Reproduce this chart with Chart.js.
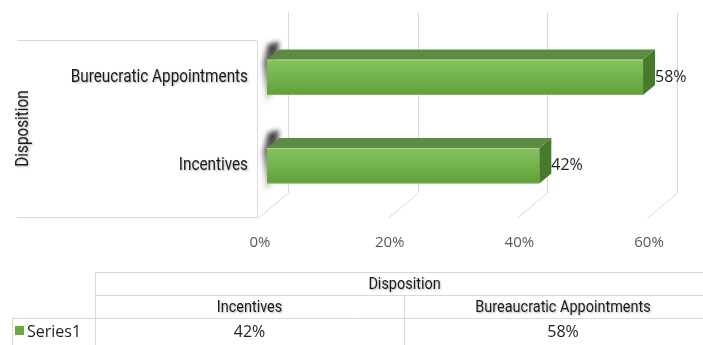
<!DOCTYPE html>
<html>
<head>
<meta charset="utf-8">
<script src="https://cdn.jsdelivr.net/npm/chart.js@4.4.1/dist/chart.umd.min.js"></script>
<style>
html,body{margin:0;padding:0;background:#fff}
#wrap{position:relative;width:703px;height:345px}
</style>
</head>
<body>
<div id="wrap"><canvas id="c" width="703" height="345"></canvas></div>
<script>
// data
const categories = ["Incentives", "Bureucratic Appointments"];
const tableCategories = ["Incentives", "Bureaucratic Appointments"];
const seriesName = "Series1";
const axisTitle = "Disposition";
const values = [42, 58];
const xTicks = [0, 20, 40, 60];

const COND = 'Roboto, "Noto Sans", sans-serif';
const BODY = '"Open Sans", "Noto Sans", sans-serif';
const GRID = "#d9d9d9";
const SQ = 0.85; // horizontal squeeze for the narrow label font
const DX = 12, DY = 10;
const BAR_PCT = 0.4;

function pct(v) { return v + "%"; }

// draws narrow, slightly shadowed text like the original
function narrowText(ctx, text, x, y, align, size, rot) {
  ctx.save();
  ctx.translate(x, y);
  if (rot) ctx.rotate(rot);
  ctx.scale(SQ, 1);
  ctx.font = size + "px " + COND;
  ctx.textAlign = align;
  ctx.textBaseline = "middle";
  ctx.shadowColor = "rgba(0,0,0,0.3)";
  ctx.shadowBlur = 2;
  ctx.shadowOffsetX = 1;
  ctx.shadowOffsetY = 1;
  ctx.fillStyle = "#1a1a1a";
  ctx.fillText(text, 0, 0);
  ctx.restore();
}

const depth3d = {
  id: "depth3d",
  beforeDatasetsDraw(chart) {
    const ctx = chart.ctx, a = chart.chartArea, xs = chart.scales.x;
    const x0 = xs.getPixelForValue(0);
    ctx.save();
    ctx.strokeStyle = GRID;
    ctx.lineWidth = 1;
    // left side box
    ctx.beginPath();
    ctx.moveTo(17, a.top + 7.5); ctx.lineTo(x0 - 9.5, a.top + 7.5);
    ctx.lineTo(x0 - 9.5, a.bottom + 7.5); ctx.lineTo(17, a.bottom + 7.5);
    ctx.stroke();
    // back wall gridlines and floor
    for (const t of xTicks) {
      const px = Math.round(xs.getPixelForValue(t)) + 0.5;
      ctx.beginPath();
      ctx.moveTo(px + 21, a.top - 21);
      ctx.lineTo(px + 21, a.bottom - 17);
      ctx.lineTo(px - 9, a.bottom + 8);
      ctx.stroke();
    }
    // dark end shading at the left of each bar
    const meta = chart.getDatasetMeta(0);
    for (const bar of meta.data) {
      const h = bar.height, top = bar.y - h / 2, bot = bar.y + h / 2, b = bar.base;
      ctx.save();
      ctx.filter = "blur(2.5px)";
      const g = ctx.createLinearGradient(0, top - DY - 6, 0, bot + 6);
      g.addColorStop(0, "rgba(30,30,30,0.9)");
      g.addColorStop(0.5, "rgba(70,70,70,0.65)");
      g.addColorStop(1, "rgba(120,120,120,0.3)");
      ctx.fillStyle = g;
      ctx.beginPath();
      ctx.moveTo(b + 1, top - DY - 5);
      ctx.lineTo(b + DX, top - DY - 8);
      ctx.lineTo(b + 7, bot - 4);
      ctx.lineTo(b - 1, bot + 8);
      ctx.lineTo(b - 4, top + 4);
      ctx.closePath();
      ctx.fill();
      ctx.restore();
    }
    ctx.restore();
  },
  afterDatasetsDraw(chart) {
    const ctx = chart.ctx;
    const meta = chart.getDatasetMeta(0);
    ctx.save();
    meta.data.forEach((bar, i) => {
      const h = bar.height, top = bar.y - h / 2, bot = bar.y + h / 2, b = bar.base, x = bar.x;
      // top face
      ctx.fillStyle = "#5e8b44";
      ctx.beginPath();
      ctx.moveTo(b, top); ctx.lineTo(b + DX, top - DY);
      ctx.lineTo(x + DX, top - DY); ctx.lineTo(x, top);
      ctx.closePath(); ctx.fill();
      // right face
      ctx.fillStyle = "#477b2c";
      ctx.beginPath();
      ctx.moveTo(x, top); ctx.lineTo(x + DX, top - DY);
      ctx.lineTo(x + DX, bot - DY); ctx.lineTo(x, bot);
      ctx.closePath(); ctx.fill();
      // light edges on the front face
      ctx.fillStyle = "rgba(190,225,160,0.7)";
      ctx.fillRect(b, top, x - b, 1);
      ctx.fillStyle = "rgba(150,200,110,0.6)";
      ctx.fillRect(b, bot - 1, x - b, 1);
      // value label
      ctx.fillStyle = "#1f1f1f";
      ctx.font = "16px " + BODY;
      ctx.textAlign = "left";
      ctx.textBaseline = "middle";
      ctx.fillText(pct(values[i]), x + DX, bar.y);
    });
    ctx.restore();
  },
  afterDraw(chart) {
    const ctx = chart.ctx, a = chart.chartArea, xs = chart.scales.x, ys = chart.scales.y;
    // x tick labels on the front floor edge
    ctx.save();
    ctx.fillStyle = "#595959";
    ctx.font = "15px " + BODY;
    ctx.textAlign = "center";
    ctx.textBaseline = "middle";
    for (const t of xTicks) ctx.fillText(pct(t), xs.getPixelForValue(t) - 7, a.bottom + 33);
    ctx.restore();
    // category labels and axis title
    categories.forEach((c, i) => narrowText(ctx, c, a.left - 19, ys.getPixelForValue(i), "right", 18, 0));
    narrowText(ctx, axisTitle, 23, (a.top + a.bottom) / 2 + 7, "center", 18, -Math.PI / 2);

    // data table
    const L = 95, M = 404, R = 722, r0 = 272, r1 = 295, r2 = 318, r3 = 345;
    ctx.save();
    ctx.strokeStyle = GRID;
    ctx.lineWidth = 1;
    ctx.beginPath();
    ctx.moveTo(L, r0 + 0.5); ctx.lineTo(703, r0 + 0.5);
    ctx.moveTo(L, r1 + 0.5); ctx.lineTo(703, r1 + 0.5);
    ctx.moveTo(12, r2 + 0.5); ctx.lineTo(703, r2 + 0.5);
    ctx.moveTo(L + 0.5, r0); ctx.lineTo(L + 0.5, r3);
    ctx.moveTo(M + 0.5, r1); ctx.lineTo(M + 0.5, r3);
    ctx.moveTo(12.5, r2); ctx.lineTo(12.5, r3);
    ctx.stroke();
    ctx.restore();
    const cols = [[L, M], [M, R]];
    narrowText(ctx, axisTitle, (L + R) / 2 - 4, (r0 + r1) / 2 + 1, "center", 17, 0);
    tableCategories.forEach((c, i) => narrowText(ctx, c, (cols[i][0] + cols[i][1]) / 2, (r1 + r2) / 2 + 1, "center", 17, 0));
    ctx.save();
    ctx.fillStyle = "#1f1f1f";
    ctx.textBaseline = "middle";
    ctx.textAlign = "center";
    ctx.font = "16px " + BODY;
    values.forEach((v, i) => ctx.fillText(pct(v), (cols[i][0] + cols[i][1]) / 2, (r2 + r3) / 2 + 1));
    ctx.fillStyle = "#6aaa3f";
    ctx.fillRect(15, 326, 9, 9);
    ctx.fillStyle = "#1f1f1f";
    ctx.textAlign = "left";
    ctx.fillText(seriesName, 27, (r2 + r3) / 2 + 1);
    ctx.restore();
  }
};

// vertical gradient for each bar's front face, placed from the category scale
function barFill(context) {
  const chart = context.chart, a = chart.chartArea, ys = chart.scales.y;
  if (!a || !ys || context.dataIndex == null) return "#6aaa3f";
  const cy = ys.getPixelForValue(context.dataIndex);
  const half = (a.bottom - a.top) / categories.length * BAR_PCT / 2;
  if (!isFinite(cy)) return "#6aaa3f";
  const g = chart.ctx.createLinearGradient(0, cy - half, 0, cy + half);
  g.addColorStop(0, "#86c160");
  g.addColorStop(0.5, "#74b34c");
  g.addColorStop(1, "#5e9f36");
  return g;
}

new Chart(document.getElementById("c"), {
  type: "bar",
  data: {
    labels: categories,
    datasets: [{
      label: seriesName,
      data: values,
      backgroundColor: barFill,
      borderWidth: 0,
      barPercentage: BAR_PCT,
      categoryPercentage: 1
    }]
  },
  plugins: [depth3d],
  options: {
    indexAxis: "y",
    responsive: false,
    animation: false,
    layout: { padding: { left: 10, top: 33, right: 47, bottom: 100 } },
    plugins: { legend: { display: false }, tooltip: { enabled: false } },
    scales: {
      x: {
        min: 0, max: 60,
        afterFit(s) { s.height = 35; },
        grid: { display: false },
        border: { display: false },
        ticks: { display: false, stepSize: 20 }
      },
      y: {
        reverse: true,
        afterFit(s) { s.width = 257; },
        grid: { display: false },
        border: { display: false },
        ticks: { display: false }
      }
    }
  }
});
</script>
</body>
</html>
